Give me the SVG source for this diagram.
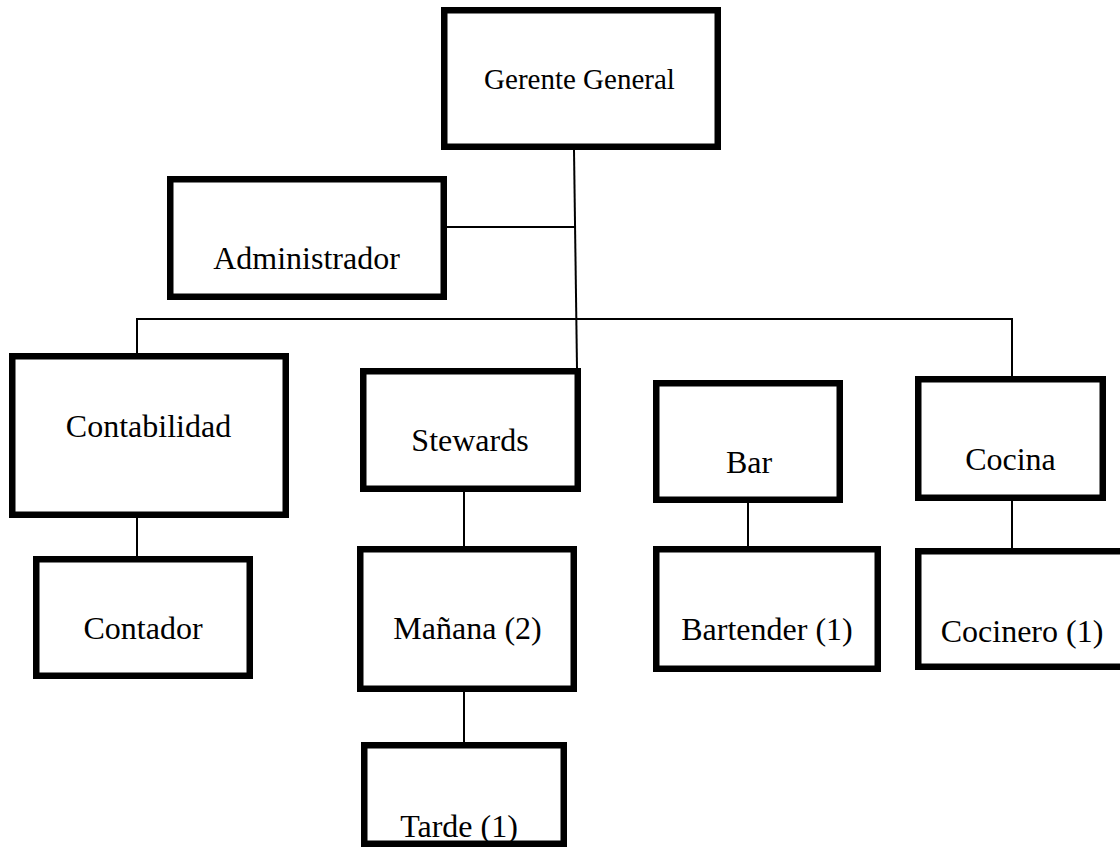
<svg xmlns="http://www.w3.org/2000/svg" width="1120" height="853" viewBox="0 0 1120 853">
  <style>
    .box { fill: #ffffff; stroke: #000000; stroke-width: 6.5; }
    .lbl { font-family: "Liberation Serif", "Times New Roman", serif; font-size: 32px; fill: #000000; text-anchor: middle; }
    .link { stroke: #000000; stroke-width: 2; fill: none; }
  </style>
  <rect x="0" y="0" width="1120" height="853" fill="#ffffff"/>

  <!-- reporting lines -->
  <g id="connectors">
    <line class="link" x1="574" y1="150" x2="577" y2="368"/>
    <line class="link" x1="447" y1="227" x2="575" y2="227"/>
    <line class="link" x1="137" y1="319" x2="1012" y2="319"/>
    <line class="link" x1="137" y1="318" x2="137" y2="353"/>
    <line class="link" x1="1012" y1="318" x2="1012" y2="376"/>
    <line class="link" x1="137" y1="518" x2="137" y2="556"/>
    <line class="link" x1="464" y1="492" x2="464" y2="546"/>
    <line class="link" x1="464" y1="692" x2="464" y2="742"/>
    <line class="link" x1="748" y1="503" x2="748" y2="546"/>
    <line class="link" x1="1012" y1="501" x2="1012" y2="548"/>
  </g>

  <g id="gerente-general">
    <rect class="box" x="444.25" y="10.25" width="273.5" height="136.5"/>
    <text class="lbl" x="579.5" y="89" style="font-size:29px">Gerente General</text>
  </g>
  <g id="administrador">
    <rect class="box" x="170.25" y="179.25" width="273.5" height="117.5"/>
    <text class="lbl" x="306.5" y="269">Administrador</text>
  </g>
  <g id="contabilidad">
    <rect class="box" x="12.25" y="356.25" width="273.5" height="158.5"/>
    <text class="lbl" x="148.5" y="437">Contabilidad</text>
  </g>
  <g id="contador">
    <rect class="box" x="36.25" y="559.25" width="213.5" height="116.5"/>
    <text class="lbl" x="143" y="639">Contador</text>
  </g>
  <g id="stewards">
    <rect class="box" x="363.25" y="371.25" width="214.5" height="117.5"/>
    <text class="lbl" x="470" y="451">Stewards</text>
  </g>
  <g id="manana">
    <rect class="box" x="360.25" y="549.25" width="213.5" height="139.5"/>
    <text class="lbl" x="467.5" y="639">Mañana (2)</text>
  </g>
  <g id="tarde">
    <rect class="box" x="364.25" y="745.25" width="199.5" height="98.5"/>
    <text class="lbl" x="459" y="837">Tarde (1)</text>
  </g>
  <g id="bar">
    <rect class="box" x="656.25" y="383.25" width="183.5" height="116.5"/>
    <text class="lbl" x="749" y="473">Bar</text>
  </g>
  <g id="bartender">
    <rect class="box" x="656.25" y="549.25" width="221.5" height="119.5"/>
    <text class="lbl" x="767" y="640">Bartender (1)</text>
  </g>
  <g id="cocina">
    <rect class="box" x="918.25" y="379.25" width="184.5" height="118.5"/>
    <text class="lbl" x="1010.5" y="470">Cocina</text>
  </g>
  <g id="cocinero">
    <rect class="box" x="918.25" y="551.25" width="220" height="115.5"/>
    <text class="lbl" x="1022" y="642">Cocinero (1)</text>
  </g>
</svg>
